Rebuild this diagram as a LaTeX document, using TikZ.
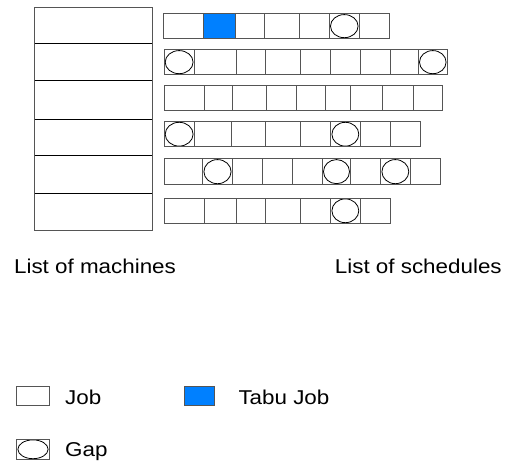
\documentclass[tikz,border=0pt]{standalone}
\usepackage{fontspec}
\setmainfont[FakeStretch=1.12]{Liberation Sans}
\usetikzlibrary{calc}
\definecolor{edgegray}{HTML}{555555}
\definecolor{tabublue}{HTML}{0080FF}
\tikzset{
  job/.style={draw=edgegray, fill=white, line width=1pt},
  tabu/.style={job, fill=tabublue},
  gap/.style={job, path picture={
      \draw[black, line width=.8pt]
        let \p1=(path picture bounding box.south west),
            \p2=(path picture bounding box.north east) in
        ($(\p1)!.5!(\p2)$) ellipse ({(\x2-\x1)/2-1.2pt} and {(\y2-\y1)/2-.6pt});}},
  machine/.style={draw=edgegray, line width=1pt},
  caption/.style={font=\fontsize{20}{24}\selectfont, inner sep=0pt}
}

\begin{document}
\begin{tikzpicture}[x=1pt,y=-1pt]
  \useasboundingbox (0,0) rectangle (507,462);

  % list of machines
  \draw[machine] (34.7,7.3) rectangle (152.3,230.7);
  \foreach \yy in {43.3,81,119.3,155.7,193.3}
    \draw[machine, draw=black] (34.7,\yy) -- (152.3,\yy);

  % list of schedules, one row per machine
  \foreach \xa/\xb/\kind in {163.3/203.3/job, 203.3/235.7/tabu, 235.7/264/job,
      264/299.3/job, 299.3/329.3/job, 329.3/359.3/gap, 359.3/389.3/job}
    \path[\kind] (\xa,14) rectangle (\xb,38.3);
  \foreach \xa/\xb/\kind in {164/194.3/gap, 194.3/236.7/job, 236.7/265/job,
      265/300.7/job, 300.7/330.7/job, 330.7/360/job, 360/390/job,
      390/418.3/job, 418.3/447.3/gap}
    \path[\kind] (\xa,50) rectangle (\xb,74.3);
  \foreach \xa/\xb/\kind in {164/204/job, 204/232.3/job, 232.3/266/job,
      266/296/job, 296/325.7/job, 325.7/350.7/job, 350.7/382.7/job,
      382.7/413.3/job, 413.3/442.7/job}
    \path[\kind] (\xa,86) rectangle (\xb,111);
  \foreach \xa/\xb/\kind in {164/194.3/gap, 194.3/231.7/job, 231.7/265/job,
      265/300.7/job, 300.7/330.7/job, 330.7/360/gap, 360/390/job,
      390/420/job}
    \path[\kind] (\xa,121.7) rectangle (\xb,146.7);
  \foreach \xa/\xb/\kind in {164/202.7/job, 202.7/232.3/gap, 232.3/262.3/job,
      262.3/292.3/job, 292.3/322.3/job, 322.3/350.7/gap, 350.7/380.7/job,
      380.7/410/gap, 410/440/job}
    \path[\kind] (\xa,159) rectangle (\xb,184.3);
  \foreach \xa/\xb/\kind in {164/204/job, 204/236.7/job, 236.7/265/job,
      265/300.7/job, 300.7/330.7/job, 330.7/360/gap, 360/390.7/job}
    \path[\kind] (\xa,198.3) rectangle (\xb,223.3);

  \node[caption, anchor=base] (machines) at (95,273.3) {List of machines};
  \node[caption, anchor=base] (schedules) at (418.3,273.3) {List of schedules};

  % legend
  \path[job] (16.7,386.7) rectangle (49.3,406);
  \node[caption, anchor=base west] (jobkey) at (65,404.3) {Job};
  \path[tabu] (184.3,386.7) rectangle (214.3,406);
  \node[caption, anchor=base west] (tabukey) at (238.3,404.3) {Tabu Job};
  \path[gap] (16.7,439.3) rectangle (49.3,459.3);
  \node[caption, anchor=base west] (gapkey) at (65,456.5) {Gap};
\end{tikzpicture}
\end{document}
